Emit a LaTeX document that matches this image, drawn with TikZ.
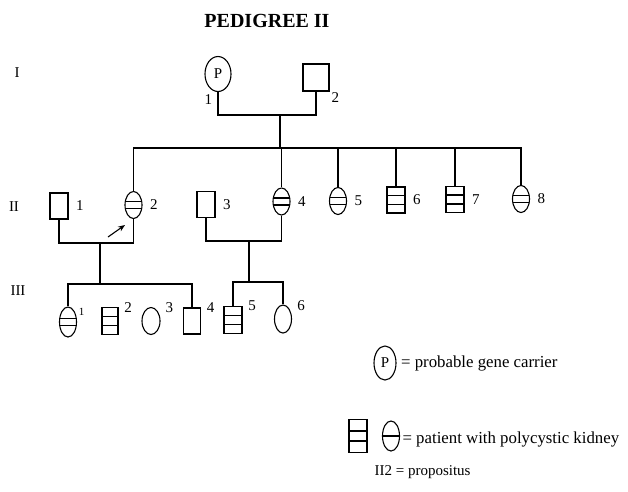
\documentclass[tikz,border=0pt]{standalone}
\usepackage{fontspec}
\setmainfont{Liberation Serif}
\usetikzlibrary{shapes.geometric, arrows.meta, positioning}

\tikzset{
  male/.style={draw, rectangle, minimum width=18pt, minimum height=26pt, inner sep=0pt},
  female/.style={draw, ellipse, minimum width=17pt, minimum height=27pt, inner sep=0pt},
  bands/.style={path picture={
    \draw ([yshift=#1]path picture bounding box.west) -- ([yshift=#1]path picture bounding box.east)
          ([yshift=-#1]path picture bounding box.west) -- ([yshift=-#1]path picture bounding box.east);}},
  lbl/.style={font=\fontsize{15}{15}\selectfont, inner sep=0pt},
  txt/.style={font=\fontsize{16.8}{17}\selectfont, inner sep=0pt},
  num/.style={label={[lbl, label distance=7pt]right:#1}},
  numup/.style={label={[lbl, label distance=6pt]30:#1}},
}

\begin{document}
\begin{tikzpicture}[x=1pt, y=-1pt, line width=1.1pt]
  \useasboundingbox (0,0) rectangle (628,491);

  \node[font=\fontsize{20}{20}\selectfont\bfseries] (title) at (267,21) {PEDIGREE II};

  % generations
  \node[lbl] (gI) at (17,73) {I};
  \node[lbl] (gII) at (14,207) {II};
  \node[lbl] (gIII) at (18,291) {III};

  % I
  \node[female, minimum width=26pt, minimum height=35pt, font=\fontsize{15}{15}\selectfont,
        label={[lbl, label distance=3pt]255:1}] (I1) at (218,74) {P};
  \node[male, minimum width=26pt, minimum height=27pt,
        label={[lbl, label distance=2pt]below right:2}] (I2) at (316,77.5) {};

  % II
  \node[male, num=1] (II1) at (59,206) {};
  \node[female, bands=3.5pt, num=2] (II2) at (133.5,205) {};
  \node[male, num=3] (II3) at (206,204.5) {};
  \node[female, bands=3.5pt, num=4] (II4) at (281.5,201.5) {};
  \node[female, bands=3.5pt, num=5] (II5) at (338,201) {};
  \node[male, bands=4.5pt, num=6] (II6) at (396,200) {};
  \node[male, bands=4.5pt, num=7] (II7) at (455,199.5) {};
  \node[female, bands=3.5pt, num=8] (II8) at (521,199) {};

  % III
  \node[female, bands=3.5pt, minimum height=30pt,
        label={[lbl, font=\fontsize{11}{11}\selectfont, label distance=2pt]30:1}] (III1) at (68,322) {};
  \node[male, bands=4.5pt, minimum width=16pt, minimum height=27pt, numup=2] (III2) at (110,321) {};
  \node[female, minimum width=18pt, numup=3] (III3) at (151,321) {};
  \node[male, minimum width=17pt, numup=4] (III4) at (192,321) {};
  \node[male, bands=4.5pt, minimum height=27pt, numup=5] (III5) at (233,320) {};
  \node[female, minimum height=28pt, numup=6] (III6) at (283,319) {};

  \coordinate (m1) at (280,115);
  \coordinate (s1) at (280,148);
  \coordinate (m2) at (100,243);
  \coordinate (s2) at (100,284);
  \coordinate (m3) at (249,241);
  \coordinate (s3) at (249,282);

  \draw (I1.south) |- (m1) -| (I2.south);
  \draw (m1) -- (s1);
  \foreach \c in {II2,II4,II5,II6,II7,II8}
    \draw (s1) -| (\c.north);

  \draw (II1.south) |- (m2) -| (II2.south);
  \draw (m2) -- (s2);
  \draw (III1.north) |- (s2) -| (III4.north);

  \draw (II3.south) |- (m3) -| (II4.south);
  \draw (m3) -- (s3);
  \draw (III5.north) |- (s3) -| (III6.north);

  % propositus
  \coordinate (pa) at (108,237);
  \coordinate (pb) at (125,225);
  \draw[-{Stealth[length=7pt, width=5.5pt]}] (pa) -- (pb);

  % legend
  \node[female, minimum width=22pt, minimum height=34pt, font=\fontsize{15}{15}\selectfont] (legP) at (385,363) {P};
  \node[txt, right=4pt of legP] (legPt) {= probable gene carrier};
  \node[male, bands=5pt, minimum height=33pt] (legM) at (358,436) {};
  \node[female, minimum height=30pt,
        path picture={\draw (path picture bounding box.west) -- (path picture bounding box.east);}] (legF) at (391,436) {};
  \node[txt, anchor=west] (legFt) at (402,439) {= patient with polycystic kidney};
  \node[txt, anchor=west, font=\fontsize{15}{15}\selectfont] (legII) at (374,472) {II2 = propositus};
\end{tikzpicture}
\end{document}
